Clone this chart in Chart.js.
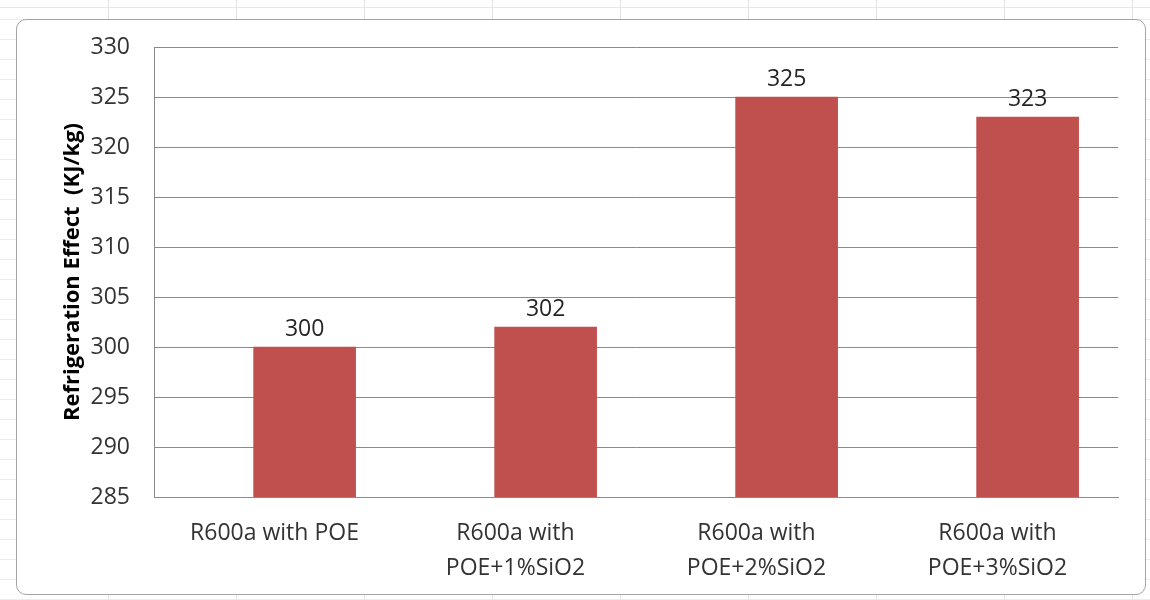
<!DOCTYPE html>
<html>
<head>
<meta charset="utf-8">
<script src="https://cdn.jsdelivr.net/npm/chart.js@4/dist/chart.umd.min.js"></script>
<style>
  body{margin:0;background:#fff;}
  #sheet{
    position:relative;width:1150px;height:600px;overflow:hidden;
    background:
      linear-gradient(#e6e6e6,#e6e6e6) 0 7px/100% 1px no-repeat,
      repeating-linear-gradient(90deg,transparent 0 108px,#e2e2e2 108px 109px,transparent 109px 128px),
      repeating-linear-gradient(180deg,transparent 0 19px,#ececec 19px 20px);
  }
  #frame{
    position:absolute;left:16px;top:19px;width:1128px;height:574px;
    background:#fff;border:1px solid #a5a5a5;border-radius:10px;
  }
  #chart{position:absolute;left:0;top:0;}
</style>
</head>
<body>
<div id="sheet">
  <div id="frame"><canvas id="chart" width="1128" height="574"></canvas></div>
</div>
<script>
// refrigeration effect per oil / nano-SiO2 mix
var categories = [
  ['R600a with POE'],
  ['R600a with', 'POE+1%SiO2'],
  ['R600a with', 'POE+2%SiO2'],
  ['R600a with', 'POE+3%SiO2']
];
var effectValues = [300, 302, 325, 323];
var yTicks = {min: 285, max: 330, step: 5};
var yTitle = 'Refrigeration Effect  (KJ/kg)';

var barColor = '#C0504D';
var gridColor = '#8a8a8a';
var fontFamily = '"Open Sans", "Noto Sans", sans-serif';
var tickFont = {family: fontFamily, size: 23};

// prints the value just above each bar
var valueLabels = {
  id: 'valueLabels',
  afterDatasetsDraw: function(chart){
    var ctx = chart.ctx;
    var meta = chart.getDatasetMeta(0);
    ctx.save();
    ctx.font = tickFont.size + 'px ' + tickFont.family;
    ctx.fillStyle = '#262626';
    ctx.textAlign = 'center';
    ctx.textBaseline = 'bottom';
    for (var i = 0; i < meta.data.length; i++) {
      var bar = meta.data[i];
      ctx.fillText(String(effectValues[i]), bar.x, bar.y - 6);
    }
    ctx.restore();
  }
};

var ctx = document.getElementById('chart').getContext('2d');
var chart = new Chart(ctx, {
  type: 'bar',
  data: {
    labels: categories,
    datasets: [{
      data: effectValues.map(function(v, i){ return {x: i, y: v}; }),
      backgroundColor: barColor,
      borderWidth: 0,
      xAxisID: 'xb',
      barThickness: 102
    }]
  },
  options: {
    responsive: false,
    animation: false,
    events: [],
    layout: {padding: {top: 27, right: 27, bottom: 0, left: 0}},
    plugins: {legend: {display: false}, tooltip: {enabled: false}},
    scales: {
      x: {
        type: 'category',
        offset: true,
        grid: {display: false, drawTicks: false},
        border: {display: true, color: gridColor, width: 1},
        ticks: {color: '#333', font: Object.assign({lineHeight: 1.52}, tickFont), padding: 19, maxRotation: 0, autoSkip: false},
        afterFit: function(scale){ scale.height = 97; }
      },
      // hidden axis that places the bars a bit right of each category centre
      xb: {
        type: 'linear',
        display: false,
        offset: false,
        min: -0.625,
        max: 3.375
      },
      y: {
        min: yTicks.min,
        max: yTicks.max,
        ticks: {stepSize: yTicks.step, color: '#333', font: tickFont, padding: 24},
        grid: {color: gridColor, lineWidth: 1, drawTicks: false},
        border: {display: true, color: gridColor, width: 1},
        title: {
          display: true,
          text: yTitle,
          color: '#000',
          font: {family: fontFamily, size: 22, weight: 'bold'},
          padding: {top: 43, bottom: 0}
        },
        afterFit: function(scale){
          scale.width = 137;
          scale.paddingTop = 0;
          scale.paddingBottom = 0;
        }
      }
    }
  },
  plugins: [valueLabels]
});
</script>
</body>
</html>
